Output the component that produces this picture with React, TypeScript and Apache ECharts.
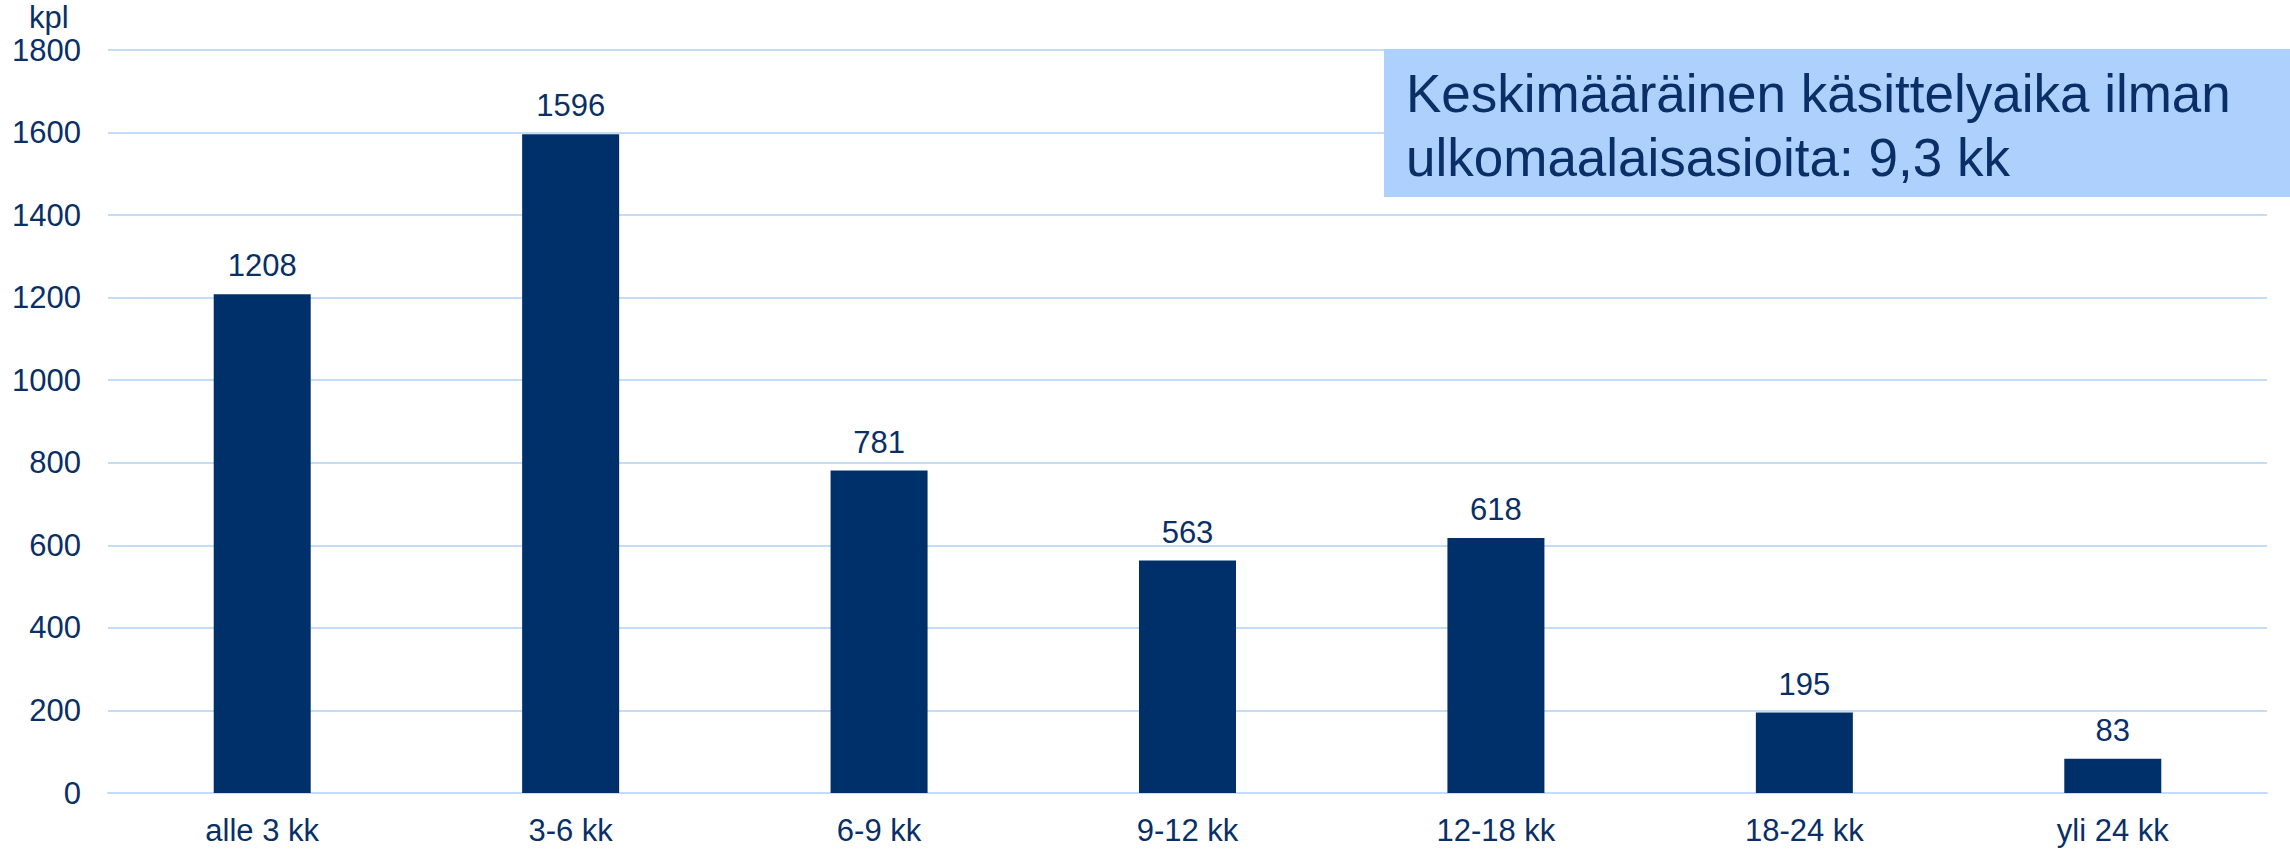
import React, { useEffect, useRef } from "react";
import * as echarts from "echarts";

const categories = ["alle 3 kk", "3-6 kk", "6-9 kk", "9-12 kk", "12-18 kk", "18-24 kk", "yli 24 kk"];
const values = [1208, 1596, 781, 563, 618, 195, 83];
const yTicks = { min: 0, max: 1800, interval: 200 };
const unitLabel = "kpl";
const noteLines = ["Keskimääräinen käsittelyaika ilman", "ulkomaalaisasioita: 9,3 kk"];

const FONT = "'Liberation Sans', Arial, sans-serif";
const TEXT = "#0A2F66";
const BAR = "#003069";
const GRID = "#C5DCF8";

export default function App() {
  const ref = useRef<HTMLDivElement>(null);
  useEffect(() => {
    if (!ref.current) return;
    const chart = echarts.init(ref.current, null, { renderer: "svg" });
    chart.setOption({
      animation: false,
      backgroundColor: "#ffffff",
      grid: { left: 108, right: 23, top: 50, bottom: 56, containLabel: false },
      xAxis: {
        type: "category",
        data: categories,
        axisLine: { show: true, lineStyle: { color: GRID, width: 2 } },
        axisTick: { show: false },
        axisLabel: { color: TEXT, fontSize: 31, fontFamily: FONT, margin: 22 },
      },
      yAxis: {
        type: "value",
        min: yTicks.min,
        max: yTicks.max,
        interval: yTicks.interval,
        axisLine: { show: false },
        axisTick: { show: false },
        splitLine: { show: true, lineStyle: { color: GRID, width: 2 } },
        axisLabel: {
          color: TEXT,
          fontSize: 31,
          fontFamily: FONT,
          margin: 27,
          formatter: (v: number) => String(v),
        },
      },
      series: [
        {
          type: "bar",
          data: values,
          barWidth: 97,
          itemStyle: { color: BAR },
          label: {
            show: true,
            position: "top",
            distance: 13,
            color: TEXT,
            fontSize: 31,
            fontFamily: FONT,
          },
        },
      ],
      graphic: [
        {
          type: "text",
          left: 29,
          top: 2,
          style: { text: unitLabel, fill: TEXT, font: `31px ${FONT}` },
        },
        {
          type: "rect",
          shape: { x: 1384, y: 49, width: 906, height: 148 },
          style: { fill: "#AED0FC" },
          z: 10,
        },
        {
          type: "text",
          x: 1406,
          y: 61,
          z: 11,
          style: {
            text: noteLines.join("\n"),
            fill: TEXT,
            font: `53px ${FONT}`,
            lineHeight: 64,
          },
        },
      ],
    });
    return () => chart.dispose();
  }, []);
  return (
    <div
      ref={ref}
      style={{ position: "fixed", left: 0, top: 0, width: 2290, height: 849 }}
    />
  );
}
